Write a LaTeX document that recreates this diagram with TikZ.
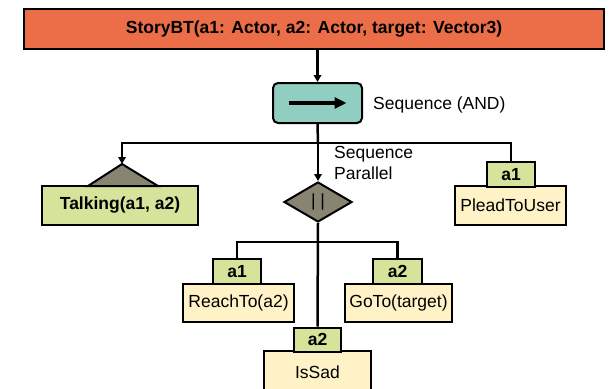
\documentclass[tikz,border=0pt]{standalone}
\usepackage{fontspec}
\setmainfont{Liberation Sans}
\usetikzlibrary{arrows.meta,shapes.geometric}

\definecolor{rootfill}{RGB}{235,110,72}
\definecolor{seqfill}{RGB}{143,206,192}
\definecolor{condfill}{RGB}{214,228,155}
\definecolor{actfill}{RGB}{255,242,199}
\definecolor{decofill}{RGB}{137,131,114}

\newcommand\diagfont{\fontsize{17.5}{21}\selectfont}

\tikzset{
  sized/.style 2 args={minimum width=#1pt, minimum height=#2pt, inner sep=0pt},
  boxline/.style={draw=black, line width=2pt},
  rootbox/.style={boxline, fill=rootfill, font=\diagfont\bfseries},
  seqbox/.style={boxline, fill=seqfill, rounded corners=5pt},
  condbox/.style={boxline, fill=condfill, font=\diagfont\bfseries},
  actbox/.style={boxline, fill=actfill},
  tabbox/.style={boxline, fill=condfill, font=\diagfont\bfseries},
  paralbox/.style={diamond, boxline, fill=decofill},
  link/.style={draw=black, line width=2.5pt},
  arrowlink/.style={link, -{Triangle[length=7pt,width=7.5pt]}},
  caption/.style={inner sep=0pt, align=left}
}

\begin{document}
\begin{tikzpicture}[x=1pt, y=-1pt, font=\diagfont]
  \useasboundingbox (0,0) rectangle (610,388);
  \clip (0,0) rectangle (610,388);

  % root of the tree
  \node[rootbox, sized={580}{40}] (root) at (314,29)
    {StoryBT(a1: Actor, a2: Actor, target: Vector3)};

  % sequence composite
  \node[seqbox, sized={89}{40}] (seq) at (317.5,103) {};
  \draw[line width=3.5pt, -{Triangle[length=12pt,width=11pt]}]
    ([xshift=-29pt]seq.center) -- ([xshift=29pt]seq.center);
  \node[caption, anchor=west] (seqlabel) at (373,105) {Sequence (AND)};

  % condition with decorator triangle
  \node[condbox, sized={156}{39}] (talk) at (120,205.5) {Talking(a1, a2)};
  \coordinate (talktop) at (122,164);
  \filldraw[boxline, fill=decofill, line join=miter]
    (88,186) -- (talktop) -- (158,186) -- cycle;

  % parallel decorator
  \node[paralbox, sized={68}{40}] (par) at (318,202) {};
  \node[inner sep=0pt] (parmark) at (par.center) {| |};
  \node[caption, anchor=north west] (parlabel) at (334,146) {Sequence\\Parallel};

  % actions with actor tabs
  \node[actbox, sized={111}{39}] (plead) at (510.5,205.5) {PleadToUser};
  \node[tabbox, sized={48}{25}] (pleadtab) at (511,174.5) {a1};

  \node[actbox, sized={111}{38}] (reach) at (238.5,303) {ReachTo(a2)};
  \node[tabbox, sized={48}{25}] (reachtab) at (237,271.5) {a1};

  \node[actbox, sized={107}{38}] (goto) at (398.5,303) {GoTo(target)};
  \node[tabbox, sized={49}{25}] (gototab) at (397.5,271.5) {a2};

  \node[actbox, sized={107}{42}] (sad) at (317.5,372) {IsSad};
  \node[tabbox, sized={47}{24}] (sadtab) at (317.5,339.5) {a2};

  % connectors
  \coordinate (j1) at (318,143);
  \coordinate (j2) at (318,242);
  \draw[arrowlink] (root.south -| seq.north) -- (seq.north);
  \draw[link] (seq.south) -- (j1);
  \draw[arrowlink] (j1) -| (talktop);
  \draw[link] (j1) -| (pleadtab.north);
  \draw[arrowlink] (j1) -- (par.north);
  \draw[link] (par.south) -- (sadtab.north);
  \draw[link] (j2) -| (reachtab.north);
  \draw[link] (j2) -| (gototab.north);
\end{tikzpicture}
\end{document}
